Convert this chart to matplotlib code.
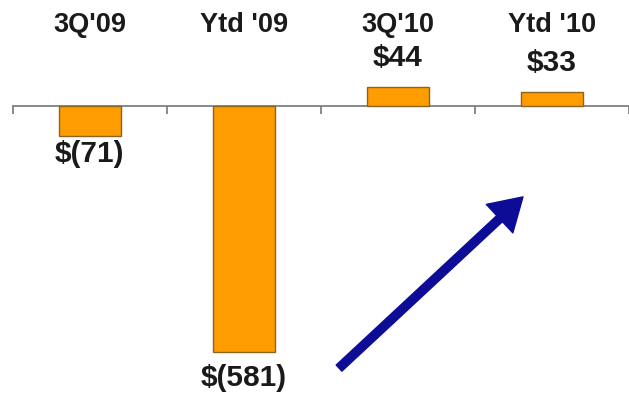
import matplotlib
matplotlib.use("Agg")
import matplotlib.pyplot as plt
from matplotlib.patches import FancyArrowPatch

categories = ["3Q'09", "Ytd '09", "3Q'10", "Ytd '10"]
values = [-71, -581, 44, 33]
value_labels = ["$(71)", "$(581)", "$44", "$33"]

W, H = 629, 393
fig = plt.figure(figsize=(W / 100, H / 100), dpi=100)
ax = fig.add_axes([0, 0, 1, 1])

px_per_unit = 0.4234
zero_px = 106
ax.set_ylim(-(H - zero_px) / px_per_unit, zero_px / px_per_unit)
cat_px = 157
left_px = 13
ax.set_xlim(-left_px / cat_px - 0.5, (W - left_px) / cat_px - 0.5)

x = list(range(len(categories)))
ax.bar(x, values, width=0.4, color="#FF9C00", edgecolor="#8a6420", linewidth=1.0, zorder=3)

# axis at zero with boundary ticks
for s in ["left", "right", "top"]:
    ax.spines[s].set_visible(False)
ax.spines["bottom"].set_position(("data", 0))
ax.spines["bottom"].set_bounds(-0.5, len(categories) - 0.5)
ax.spines["bottom"].set_color("#808080")
ax.spines["bottom"].set_linewidth(1.3)
ax.set_xticks([i - 0.5 for i in range(len(categories) + 1)])
ax.set_xticklabels([])
ax.tick_params(axis="x", direction="out", length=6, width=1.3, color="#808080")
ax.set_yticks([])

font = "Liberation Sans"
cat_y = (zero_px - 25) / px_per_unit
for xi, c in zip(x, categories):
    ax.text(xi, cat_y, c, ha="center", va="center", fontsize=19.5,
            fontweight="bold", family=font, color="#1a1a1a")

offsets = {-71: 4, -581: 12}
for xi, v, lab in zip(x, values, value_labels):
    if v < 0:
        ax.annotate(lab, (xi, v), xytext=(0, -offsets.get(v, 5) * 0.72),
                    textcoords="offset points", ha="center", va="top",
                    fontsize=21.5, fontweight="bold", family=font, color="#1a1a1a")
    else:
        ax.annotate(lab, (xi, v), xytext=(0, 11),
                    textcoords="offset points", ha="center", va="bottom",
                    fontsize=21.5, fontweight="bold", family=font, color="#1a1a1a")

# trend arrow
arrow = FancyArrowPatch((337 / W, 1 - 370 / H), (525 / W, 1 - 195 / H),
                        transform=ax.transAxes,
                        arrowstyle="simple,head_length=1.15,head_width=1.4,tail_width=0.3",
                        mutation_scale=20, color="#0c0c96", zorder=4)
ax.add_patch(arrow)

fig.savefig("out.png", dpi=100)
